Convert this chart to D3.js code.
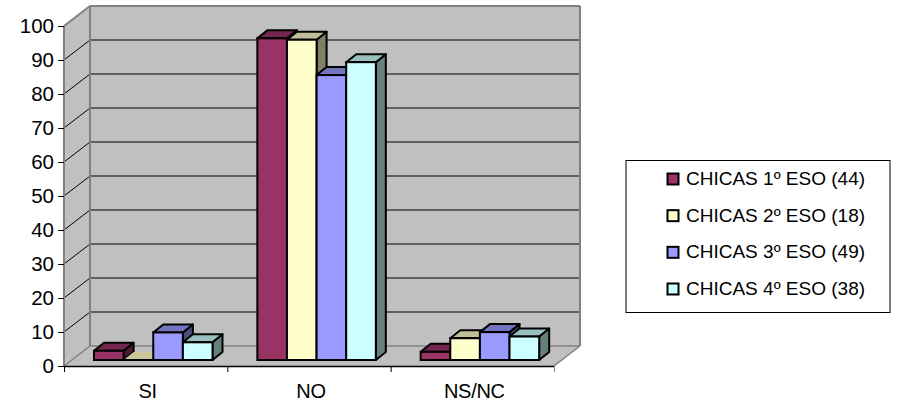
<!DOCTYPE html>
<html><head><meta charset="utf-8">
<style>html,body{margin:0;padding:0;background:#fff;overflow:hidden}svg{display:block}
text{font-family:"Liberation Sans",Arial,sans-serif;fill:#000}</style>
<script src="https://cdn.jsdelivr.net/npm/d3@7/dist/d3.min.js"></script></head><body>
<script>
const categories = ["SI", "NO", "NS/NC"];
const seriesNames = ["CHICAS 1º ESO (44)", "CHICAS 2º ESO (18)", "CHICAS 3º ESO (49)", "CHICAS 4º ESO (38)"];
const seriesColors = ["#993366", "#FFFFCC", "#9999FF", "#CCFFFF"];
const chicas1 = [2.7, 94.6, 2.4];
const chicas2 = [0, 94.2, 6.4];
const chicas3 = [8.1, 83.8, 8.2];
const chicas4 = [5.2, 87.6, 6.9];
const seriesValues = [chicas1, chicas2, chicas3, chicas4];
const yTicks = [0,10,20,30,40,50,60,70,80,90,100];

const W=906,H=403;
const svg=d3.select("body").append("svg").attr("width",W).attr("height",H);
const wallDx=26, wallDy=-20;
const y=d3.scaleLinear().domain([0,100]).range([366,26]);
const x=d3.scalePoint().domain(d3.range(4)).range([64,554]);
const xc=d3.scaleBand().domain(categories).range([64,554]).paddingInner(0).paddingOuter(0);
const poly=(g,pts,fill,stroke,sw)=>g.append("polygon").attr("points",pts.map(p=>p.join(",")).join(" "))
  .attr("fill",fill).attr("stroke",stroke).attr("stroke-width",sw).attr("stroke-linejoin","round");
const x0=x(0),x1=x(3),y0=y(0),yT=y(100);

// walls
const walls=svg.append("g");
poly(walls,[[x0,y0],[x0+wallDx,y0+wallDy],[x1+wallDx,y0+wallDy],[x1,y0]],"#C0C0C0","none",0);
poly(walls,[[x0,y0],[x0,yT],[x0+wallDx,yT+wallDy],[x0+wallDx,y0+wallDy]],"#C0C0C0","none",0);
poly(walls,[[x0+wallDx,yT+wallDy],[x1+wallDx,yT+wallDy],[x1+wallDx,y0+wallDy],[x0+wallDx,y0+wallDy]],"#C0C0C0","none",0);

// gridlines
const grid=svg.append("g").attr("fill","none");
yTicks.filter(t=>t>0&&t<100).forEach(t=>{
  grid.append("polyline").attr("points",`${x0},${y(t)} ${x0+wallDx},${y(t)+wallDy} ${x1+wallDx},${y(t)+wallDy}`)
    .attr("stroke","#000").attr("stroke-width",1);
});
// wall edges
const edge=(a,b,c,d,w)=>grid.append("line").attr("x1",a).attr("y1",b).attr("x2",c).attr("y2",d).attr("stroke","#808080").attr("stroke-width",w);
edge(x0,y0,x0,yT,2);
edge(x0,yT,x0+wallDx,yT+wallDy,2);
edge(x0+wallDx,yT+wallDy,x1+wallDx,yT+wallDy,2);
edge(x0+wallDx,yT+wallDy,x0+wallDx,y0+wallDy,2);
edge(x1+wallDx,yT+wallDy,x1+wallDx,y0+wallDy,2);
edge(x0+wallDx,y0+wallDy,x1+wallDx,y0+wallDy,1.5);
edge(x0,y0,x0+wallDx,y0+wallDy,1.5);
edge(x1,y0,x1+wallDx,y0+wallDy,1.5);

// bars
const barBase=360, depthX=10, depthY=-8;
const barY=d3.scaleLinear().domain([0,100]).range([barBase,barBase-340]);
const groupInset=30;
const xs=d3.scaleBand().domain(d3.range(4)).paddingInner(0).paddingOuter(0);
const bars=svg.append("g");
const shade=(c,k)=>{const r=d3.rgb(c);return d3.rgb(r.r*k,r.g*k,r.b*k).formatHex();};
categories.forEach((cat,ci)=>{
  const left=xc(cat)+groupInset, right=left+118.5;
  xs.range([left,right]);
  seriesValues.forEach((vals,si)=>{
    const a=xs(si),b=a+xs.bandwidth(),t=barY(vals[ci]),c=seriesColors[si];
    const g=bars.append("g");
    if(vals[ci]>0){
      poly(g,[[b,barBase],[b+depthX,barBase+depthY],[b+depthX,t+depthY],[b,t]],shade(c,.5),"#000",2);
      poly(g,[[a,t],[a+depthX,t+depthY],[b+depthX,t+depthY],[b,t]],shade(c,.75),"#000",2);
      g.append("rect").attr("x",a).attr("y",t).attr("width",b-a).attr("height",barBase-t)
        .attr("fill",c).attr("stroke","#000").attr("stroke-width",2);
    } else {
      poly(g,[[a,t],[a+depthX,t+depthY],[b+depthX,t+depthY],[b,t]],"#C8C89A","none",0);
      g.append("line").attr("x1",a).attr("y1",t).attr("x2",b).attr("y2",t).attr("stroke","#000").attr("stroke-width",2);
    }
  });
});

// axes
const yAxis=d3.axisLeft(y).tickValues(yTicks).tickSize(6).tickPadding(4);
const gy=svg.append("g").attr("transform",`translate(${x0},0)`).call(yAxis);
gy.select(".domain").remove();
gy.selectAll("text").attr("font-size",20.5).style("font-family",'"Liberation Sans"');
const xAxis=d3.axisBottom(x).tickValues(d3.range(4)).tickSize(6).tickFormat("");
const gx=svg.append("g").attr("transform",`translate(0,${y0})`).call(xAxis);
gx.select(".domain").attr("d",`M${x0},0.5H${x1}`).attr("stroke","#000").attr("stroke-width",1.5);
gx.selectAll(".tick:last-of-type line").attr("stroke","#808080");
svg.append("g").selectAll("text").data(categories).join("text")
  .attr("x",d=>xc(d)+xc.bandwidth()/2+2).attr("y",398).attr("text-anchor","middle")
  .attr("font-size",20).attr("letter-spacing",-0.3).text(d=>d);

// legend
const legend=svg.append("g");
legend.append("rect").attr("x",626).attr("y",160.5).attr("width",264).attr("height",152)
  .attr("fill","#fff").attr("stroke","#000").attr("stroke-width",1);
const ly=d3.scalePoint().domain(d3.range(4)).range([179,289]);
seriesNames.forEach((n,i)=>{
  legend.append("rect").attr("x",667.5).attr("y",ly(i)-5.5).attr("width",11).attr("height",11)
    .attr("fill",seriesColors[i]).attr("stroke","#000").attr("stroke-width",2);
  legend.append("text").attr("x",686).attr("y",ly(i)+6).attr("font-size",19).text(n);
});
</script></body></html>
